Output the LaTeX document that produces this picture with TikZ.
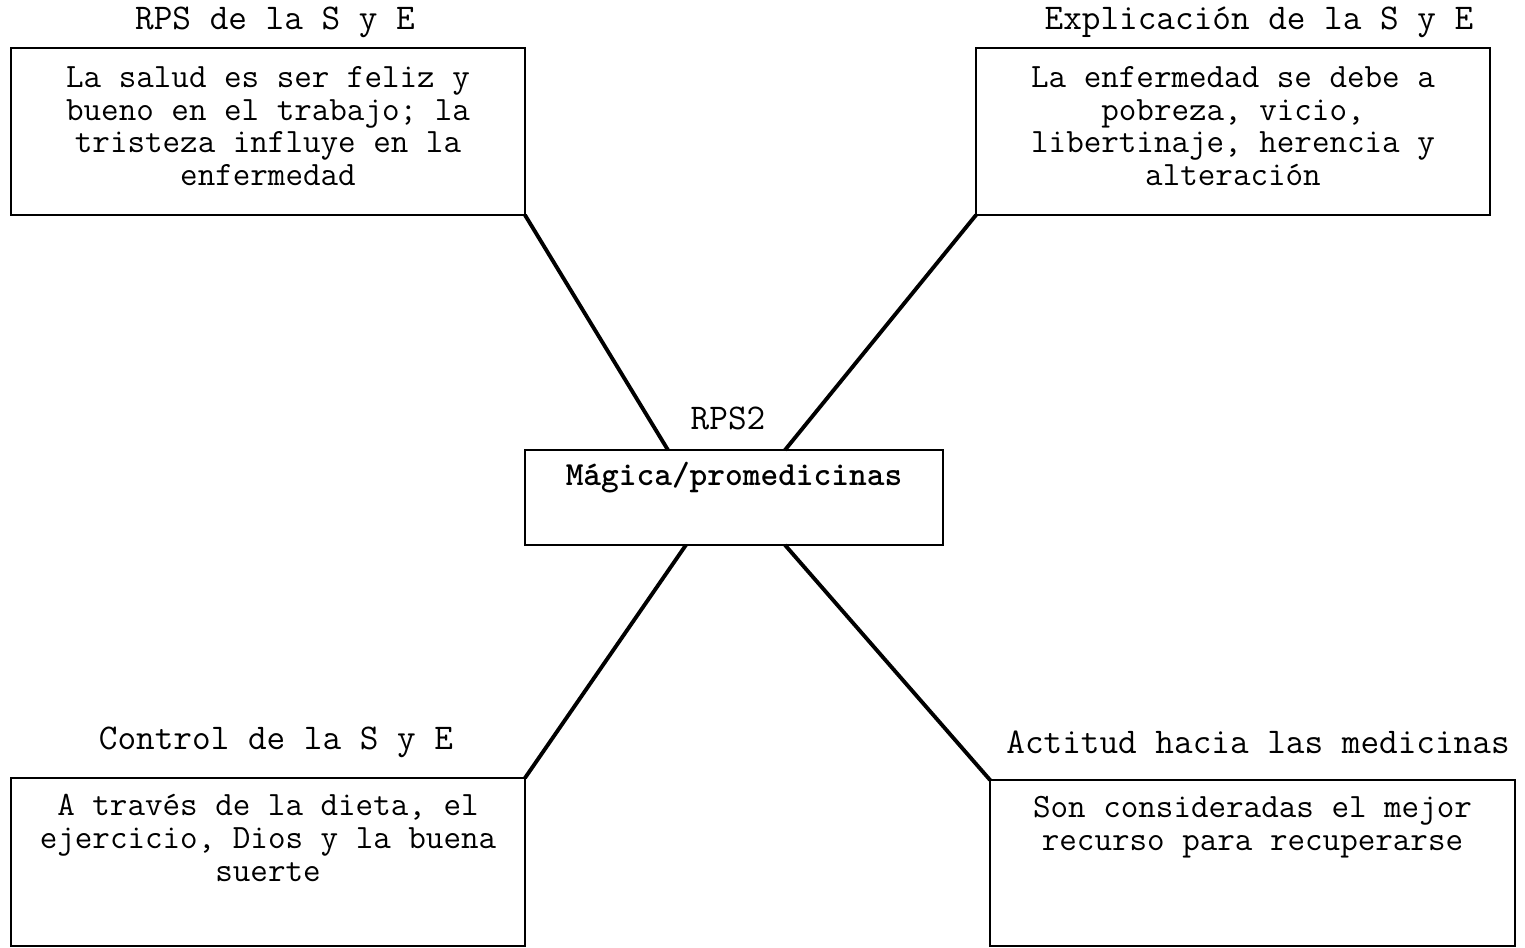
\documentclass[tikz,border=0pt]{standalone}
\usepackage{fontspec}
\setmainfont{Latin Modern Mono}
\newfontfamily\magfont{Latin Modern Mono Light}
\usetikzlibrary{calc}
\usetikzlibrary{positioning}

\begin{document}
\begin{tikzpicture}[x=0.02cm,y=-0.02cm,
                    my box/.style={draw, line width=0.8pt, inner sep=0pt, outer sep=0pt},
                    my text/.style={font=\fontsize{19.4}{18.6}\selectfont, align=center, inner sep=0pt, anchor=north},
                    my title/.style={font=\fontsize{20.6}{20}\selectfont, inner sep=0pt},
                    my link/.style={line width=2.2pt}]
\useasboundingbox (0,0) rectangle (1525,947); % keep the page size of the reference
% the five boxes
\node[my box, minimum width=10.28cm, minimum height=3.34cm] (rps) at (268,131.5) {};
\node[my box, minimum width=10.28cm, minimum height=3.34cm] (expl) at (1233,131.5) {};
\node[my box, minimum width=8.36cm, minimum height=1.9cm] (rps2) at (734,497.5) {};
\node[my box, minimum width=10.28cm, minimum height=3.36cm] (ctrl) at (268,862) {};
\node[my box, minimum width=10.5cm, minimum height=3.32cm] (act) at (1252.5,863) {};
% titles above the boxes
\node[my title] (rps title) at (275,22) {RPS de la S y E};
\node[my title] (expl title) at (1259,22) {Explicación de la S y E};
\node[my title] (rps2 title) at (728,418) {RPS2};
\node[my title] (ctrl title) at (276,742) {Control de la S y E};
\node[my title] (act title) at (1258,742) {Actitud hacia las medicinas};
% texts inside the boxes
\node[my text, below=0.36cm of rps.north] (rps text) {La salud es ser feliz y\\bueno en el trabajo; la\\tristeza influye en la\\enfermedad};
\node[my text, below=0.36cm of expl.north] (expl text) {La enfermedad se debe a\\pobreza, vicio,\\libertinaje, herencia y\\alteración};
\node[my text, font=\fontsize{19.2}{18.6}\selectfont\magfont\bfseries, below=0.24cm of rps2.north] (rps2 text) {Mágica/promedicinas};
\node[my text, below=0.32cm of ctrl.north] (ctrl text) {A través de la dieta, el\\ejercicio, Dios y la buena\\suerte};
\node[my text, below=0.32cm of act.north] (act text) {Son consideradas el mejor\\recurso para recuperarse};
% the four links to the centre box
\draw[my link] (rps.south east) -- ($(rps2.north west)!0.342!(rps2.north east)$);
\draw[my link] (expl.south west) -- ($(rps2.north west)!0.622!(rps2.north east)$);
\draw[my link] ($(rps2.south west)!0.385!(rps2.south east)$) -- (ctrl.north east);
\draw[my link] ($(rps2.south west)!0.622!(rps2.south east)$) -- (act.north west);
\end{tikzpicture}
\end{document}
